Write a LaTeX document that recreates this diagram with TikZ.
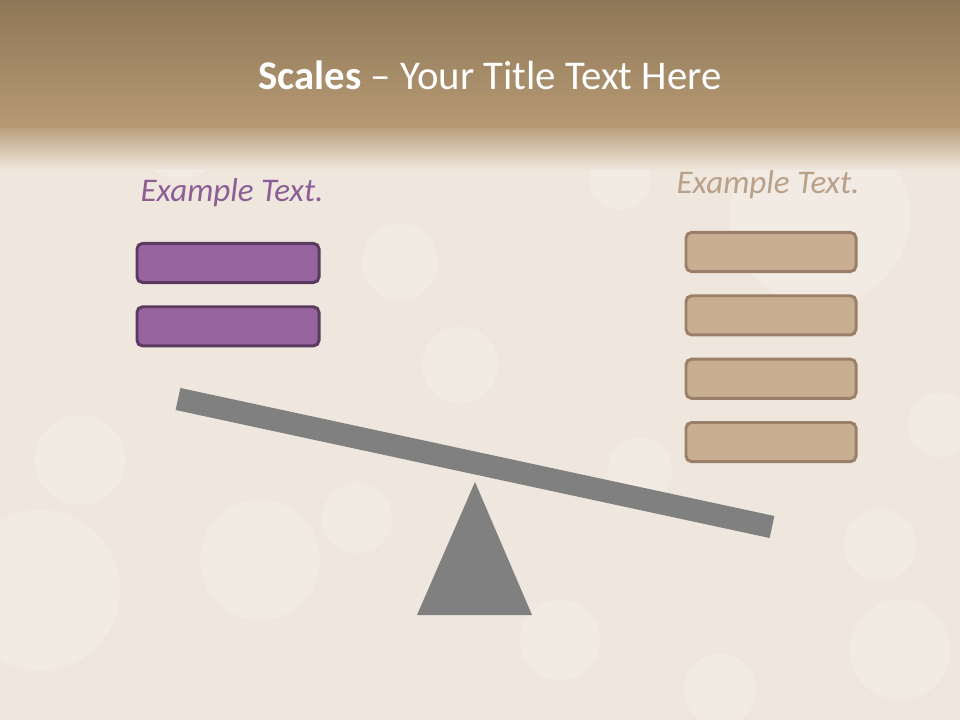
\documentclass[tikz,border=0pt]{standalone}
\usepackage{fontspec}
\setmainfont{Carlito}
\usetikzlibrary{positioning}

\definecolor{bandtop}{HTML}{8E7757}
\definecolor{bandlow}{HTML}{B69A74}
\definecolor{paper}{HTML}{EFE7DD}
\definecolor{plum}{HTML}{9764A0}
\definecolor{plumedge}{HTML}{5A3A5E}
\definecolor{plumtext}{HTML}{8C5E96}
\definecolor{sand}{HTML}{C8AF91}
\definecolor{sandedge}{HTML}{9A8068}
\definecolor{sandtext}{HTML}{B9A189}
\definecolor{steel}{HTML}{808080}

\begin{document}
\begin{tikzpicture}[
  x=0.025cm, y=-0.025cm,
  plumbox/.style={draw=plumedge, fill=plum, line width=2.1pt, rounded corners=4pt, minimum width=4.55cm, minimum height=0.98cm},
  sandbox/.style={draw=sandedge, fill=sand, line width=2.1pt, rounded corners=4pt, minimum width=4.25cm, minimum height=0.98cm},
  heading/.style={font=\fontsize{23.5}{28}\selectfont\itshape},
  bokeh/.style={fill=white, opacity=0.2}
]
  % background
  \useasboundingbox (0,0) rectangle (960,720);
  \fill[paper] (0,0) rectangle (960,720);
  \foreach \cx/\cy/\r in {460/365/38, 400/262/38, 357/518/35, 640/470/32, 720/690/36, 880/545/36,
                          940/425/32, 40/590/80, 820/215/90, 620/180/30, 80/460/45, 260/560/60,
                          560/640/40, 900/650/50, 180/140/40}
    \fill[bokeh] (\cx,\cy) circle (\r);
  \shade[top color=bandtop, bottom color=bandlow] (0,0) rectangle (960,128);
  \shade[top color=bandlow, bottom color=paper, opacity=0.9] (0,128) rectangle (960,170);

  % title
  \node[text=white, font=\fontsize{29}{34}\selectfont] (title) at (490,75) {\textbf{Scales} -- Your Title Text Here};

  % left pan
  \node[heading, text=plumtext] (lefthead) at (232,193) {Example Text.};
  \node[plumbox] (left1) at (228,263) {};
  \node[plumbox, below=0.53cm of left1] (left2) {};

  % right pan
  \node[heading, text=sandtext] (righthead) at (768,185) {Example Text.};
  \node[sandbox] (right1) at (771,252) {};
  \node[sandbox, below=0.53cm of right1] (right2) {};
  \node[sandbox, below=0.53cm of right2] (right3) {};
  \node[sandbox, below=0.53cm of right3] (right4) {};

  % seesaw
  \coordinate (apex) at (475,482);
  \fill[steel] (apex) -- (532,615) -- (417,615) -- cycle;
  \coordinate (beamL) at (178,399);
  \coordinate (beamR) at (772,527);
  \draw[steel, line width=16pt] (beamL) -- (beamR);
\end{tikzpicture}
\end{document}
